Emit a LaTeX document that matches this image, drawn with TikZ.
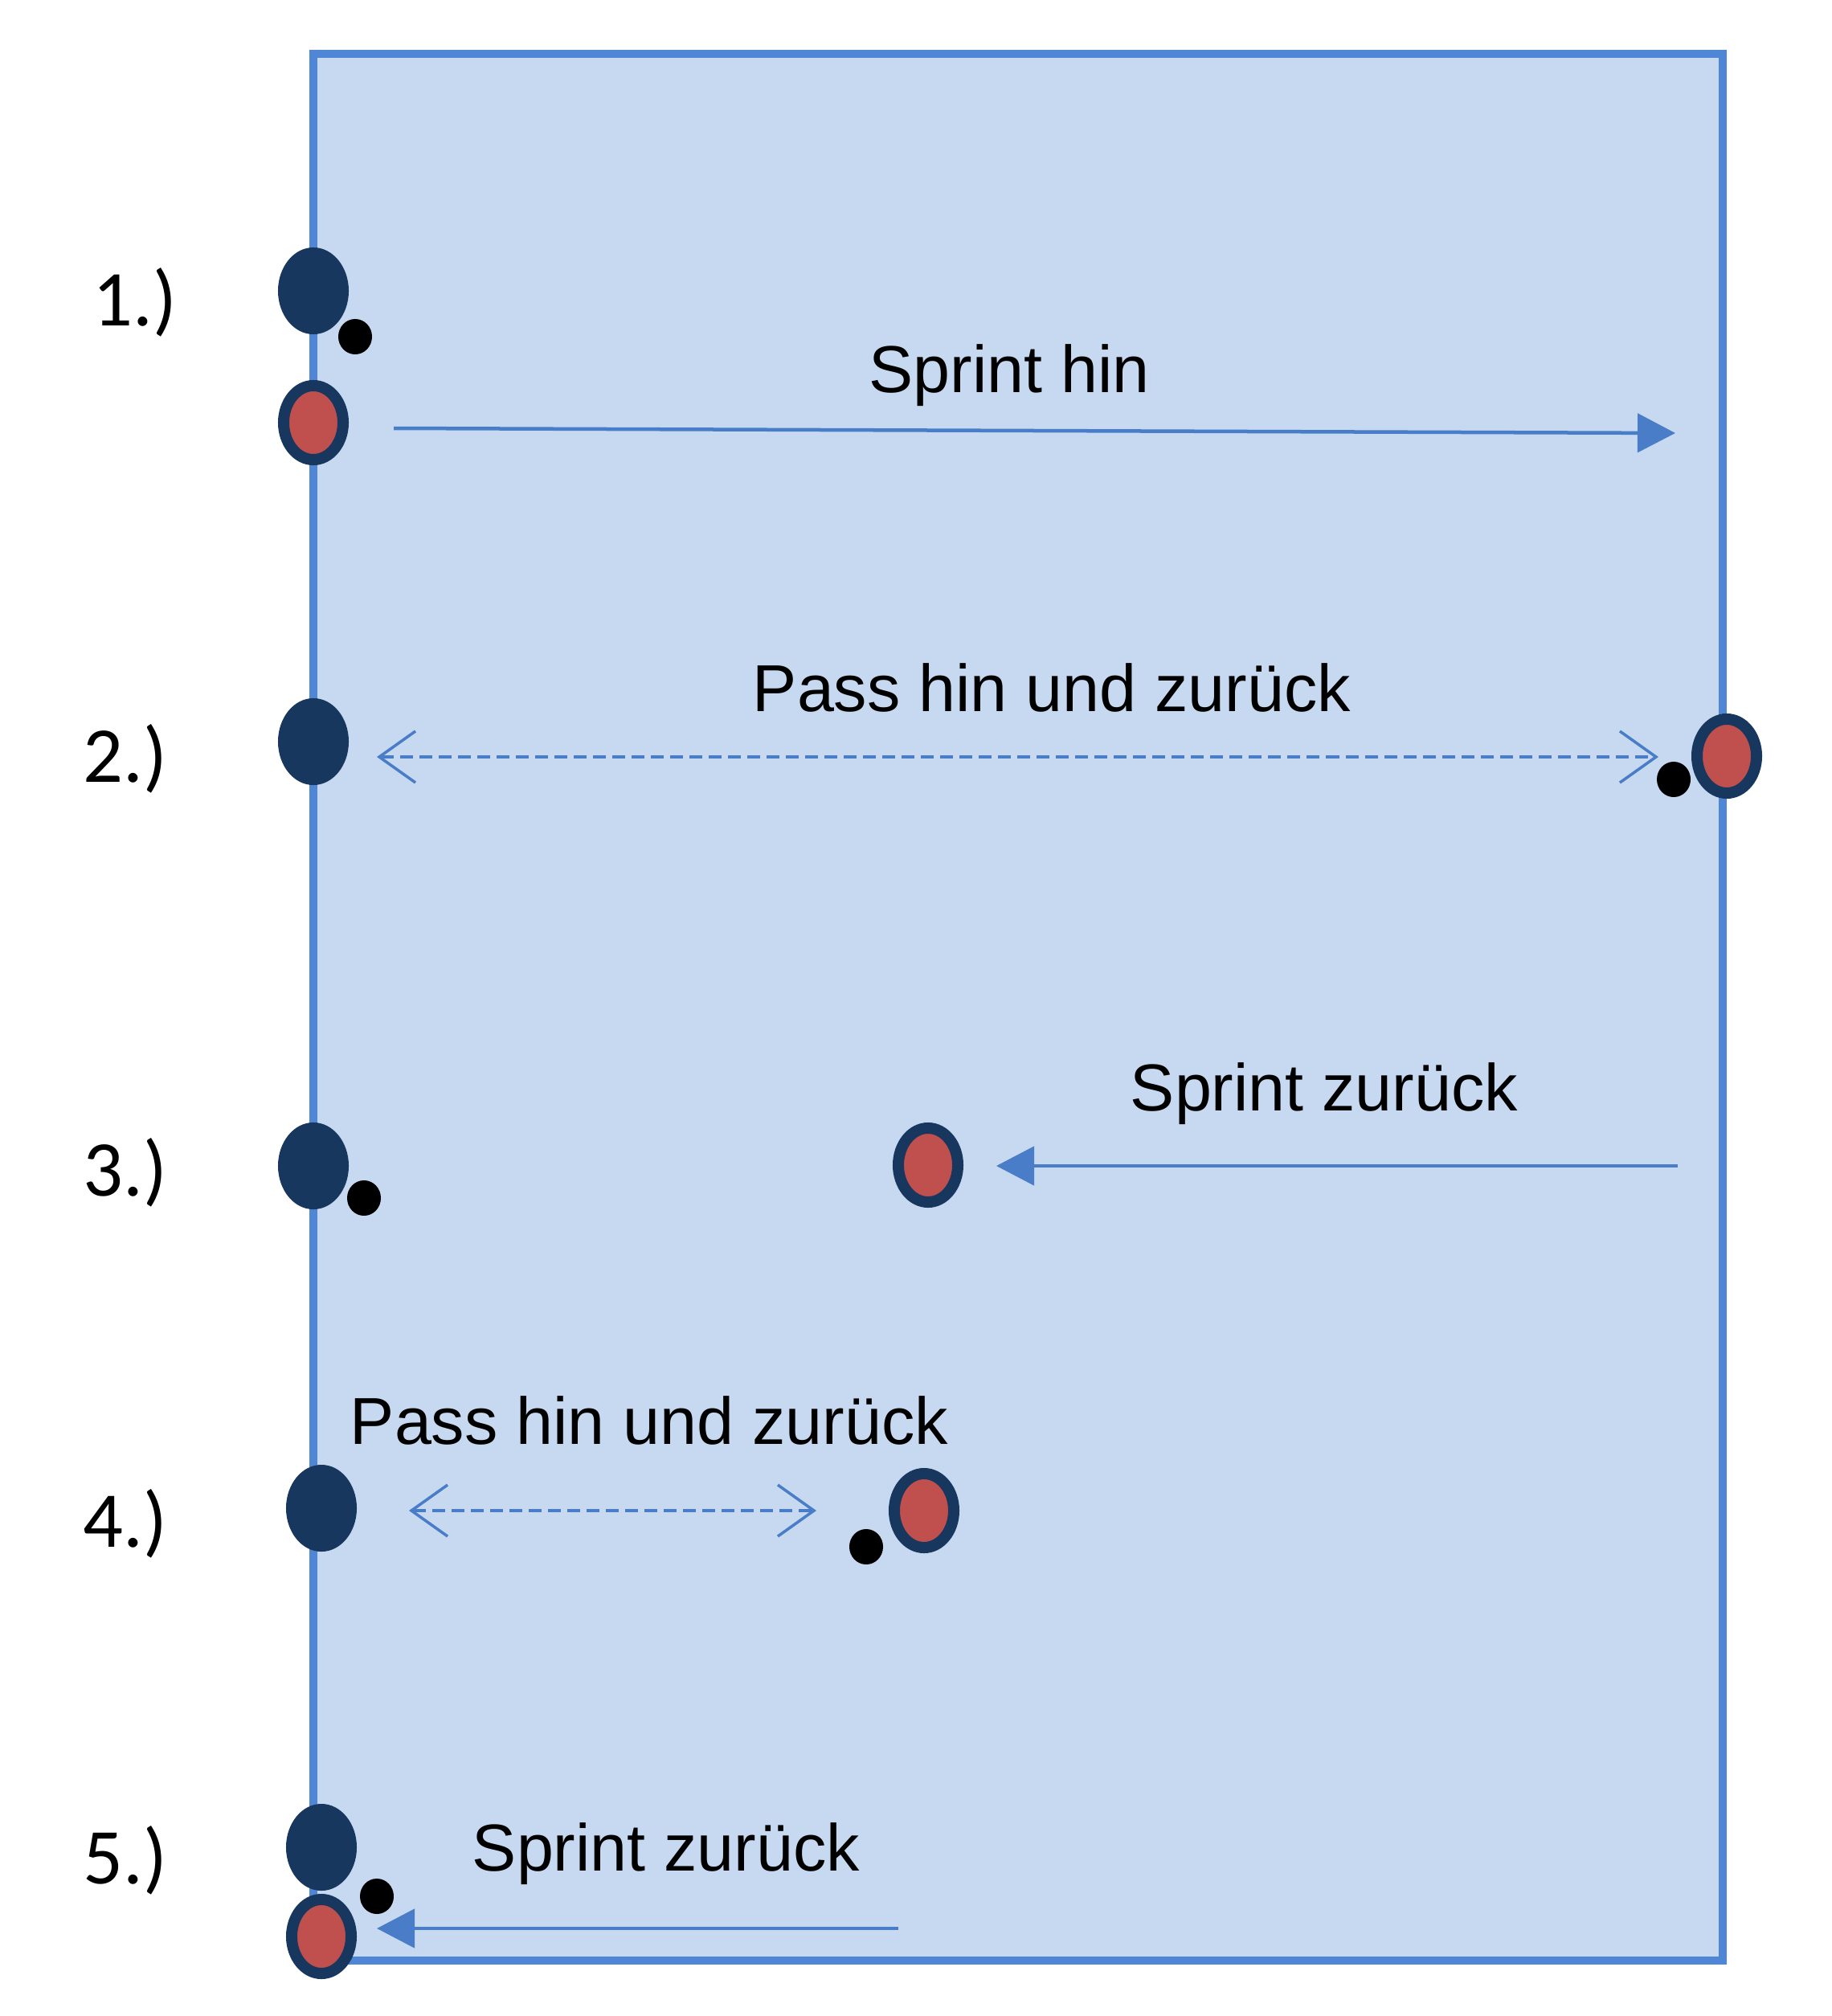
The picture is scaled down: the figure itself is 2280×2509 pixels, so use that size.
\documentclass[tikz,border=0pt]{standalone}
\usepackage{fontspec}
\setmainfont{Liberation Sans}
\newfontfamily\numfont{Carlito}
\usetikzlibrary{arrows.meta,shapes.geometric}
\definecolor{fieldfill}{HTML}{C6D9F0}
\definecolor{fieldline}{HTML}{4F86D5}
\definecolor{arrowblue}{HTML}{4A7DC8}
\definecolor{navy}{HTML}{17375E}
\definecolor{redfill}{HTML}{C0504D}
\tikzset{
  navydot/.style={ellipse,fill=navy,inner sep=0pt,minimum width=0.88cm,minimum height=1.08cm},
  reddot/.style={ellipse,fill=redfill,draw=navy,line width=0.14cm,inner sep=0pt,minimum width=0.74cm,minimum height=0.92cm},
  ball/.style={ellipse,fill=black,inner sep=0pt,minimum width=0.42cm,minimum height=0.44cm},
  numlabel/.style={font=\numfont\fontsize{28}{30}\selectfont,anchor=base,inner sep=0pt},
  txtlabel/.style={font=\fontsize{23.5}{26}\selectfont,anchor=base,inner sep=0pt},
  sprintarrow/.style={arrowblue,line width=0.045cm,-{Triangle[length=0.47cm,width=0.48cm]}},
  passarrow/.style={arrowblue,line width=0.04cm,dash pattern=on 0.16cm off 0.08cm,
     {Straight Barb[length=0.45cm,width=0.64cm,line width=0.035cm]}-{Straight Barb[length=0.45cm,width=0.64cm,line width=0.035cm]}}
}
\begin{document}
\begin{tikzpicture}[x=0.01cm,y=-0.01cm]
\useasboundingbox[fill=white] (0,0) rectangle (2280,2509);
% field
\draw[fill=fieldfill,draw=fieldline,line width=0.1cm] (390,67) rectangle (2144,2440);
% step numbers
\node[numlabel] (n1) at (168,405) {1.)};
\node[numlabel] (n2) at (156,973) {2.)};
\node[numlabel] (n3) at (156,1488) {3.)};
\node[numlabel] (n4) at (156,1925) {4.)};
\node[numlabel] (n5) at (156,2344) {5.)};
% texts
\node[txtlabel] (t1) at (1256,488) {Sprint hin};
\node[txtlabel] (t2) at (1309,885) {Pass hin und zurück};
\node[txtlabel] (t3) at (1648,1382) {Sprint zurück};
\node[txtlabel] (t4) at (808,1797) {Pass hin und zurück};
\node[txtlabel] (t5) at (829,2328) {Sprint zurück};
% arrow end points
\coordinate (a1s) at (490,533);
\coordinate (a1e) at (2085,539);
\coordinate (a2s) at (469,942);
\coordinate (a2e) at (2064,942);
\coordinate (a3s) at (2088,1451);
\coordinate (a3e) at (1240,1451);
\coordinate (a4s) at (509,1880);
\coordinate (a4e) at (1016,1880);
\coordinate (a5s) at (1118,2400);
\coordinate (a5e) at (469,2400);
\draw[sprintarrow] (a1s) -- (a1e);
\draw[passarrow] (a2s) -- (a2e);
\draw[sprintarrow] (a3s) -- (a3e);
\draw[passarrow] (a4s) -- (a4e);
\draw[sprintarrow] (a5s) -- (a5e);
% step 1
\node[navydot] (p1) at (390,362) {};
\node[ball] (b1) at (442,419) {};
\node[reddot] (r1) at (390,526) {};
% step 2
\node[navydot] (p2) at (390,923) {};
\node[reddot] (r2) at (2149,941) {};
\node[ball] (b2) at (2083,970) {};
% step 3
\node[navydot] (p3) at (390,1451) {};
\node[ball] (b3) at (453,1491) {};
\node[reddot] (r3) at (1155,1450) {};
% step 4
\node[navydot] (p4) at (400,1877) {};
\node[reddot] (r4) at (1150,1880) {};
\node[ball] (b4) at (1078,1925) {};
% step 5
\node[navydot] (p5) at (400,2299) {};
\node[ball] (b5) at (469,2360) {};
\node[reddot] (r5) at (400,2410) {};
\end{tikzpicture}
\end{document}
